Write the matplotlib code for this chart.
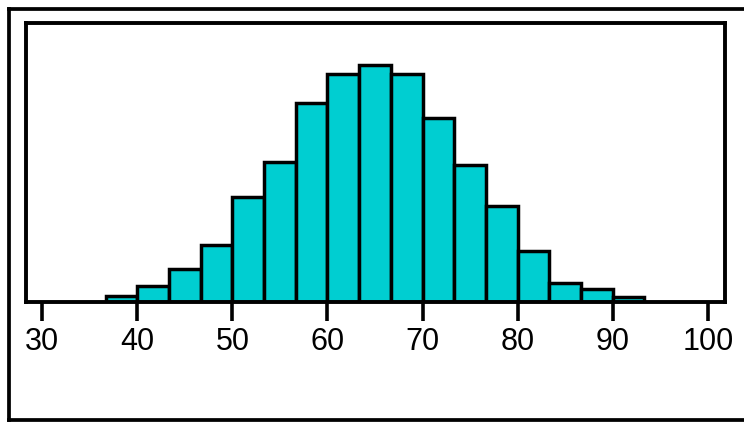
import matplotlib
matplotlib.use("Agg")
import matplotlib.pyplot as plt
from matplotlib.lines import Line2D
import numpy as np

# Histogram data (bin edges and bar heights)
bin_edges = [36.667, 40.0, 43.333, 46.667, 50.0, 53.333, 56.667, 60.0, 63.333,
             66.667, 70.0, 73.333, 76.667, 80.0, 83.333, 86.667, 90.0, 93.333]
counts = [5.5, 16, 33, 57, 105, 140, 199, 228, 237, 228, 184, 137, 96, 51, 19, 13, 5]
tick_values = [30, 40, 50, 60, 70, 80, 90, 100]
tick_labels = ["30", "40", "50", "60", "70", "80", "90", "100"]

W, H = 744, 437
fig = plt.figure(figsize=(W / 100, H / 100), dpi=100)
fig.patch.set_facecolor("white")

left, right, top, bottom = 26, 725, 23, 301.7
ax = fig.add_axes([left / W, (H - bottom) / H, (right - left) / W, (bottom - top) / H])

edges = np.array(bin_edges)
ax.bar(edges[:-1], counts, width=np.diff(edges), align="edge",
       color="#00CED1", edgecolor="black", linewidth=2.5, zorder=2)

ax.set_xlim(28.3, 101.8)
ax.set_ylim(0, 278.7)
ax.set_yticks([])
ax.set_xticks(tick_values)
ax.set_xticklabels(tick_labels, fontfamily="Liberation Sans", fontsize=22)
ax.tick_params(axis="x", direction="out", length=13.5, width=2.6, pad=5, color="black")
for s in ax.spines.values():
    s.set_linewidth(2.8)
    s.set_color("black")
    s.set_zorder(3)

# Outer frame (right edge lies outside the image)
lw = 2.7
x0, y0, y1 = 8.5 / W, 1 - 8.5 / H, 1 - 419.5 / H
fig.add_artist(Line2D([x0, x0], [y0, y1], transform=fig.transFigure, color="black", lw=lw,
                      solid_capstyle="projecting"))
fig.add_artist(Line2D([x0, 1.01], [y0, y0], transform=fig.transFigure, color="black", lw=lw,
                      solid_capstyle="projecting"))
fig.add_artist(Line2D([x0, 1.01], [y1, y1], transform=fig.transFigure, color="black", lw=lw,
                      solid_capstyle="projecting"))

fig.savefig("out.png", dpi=100, facecolor="white")
